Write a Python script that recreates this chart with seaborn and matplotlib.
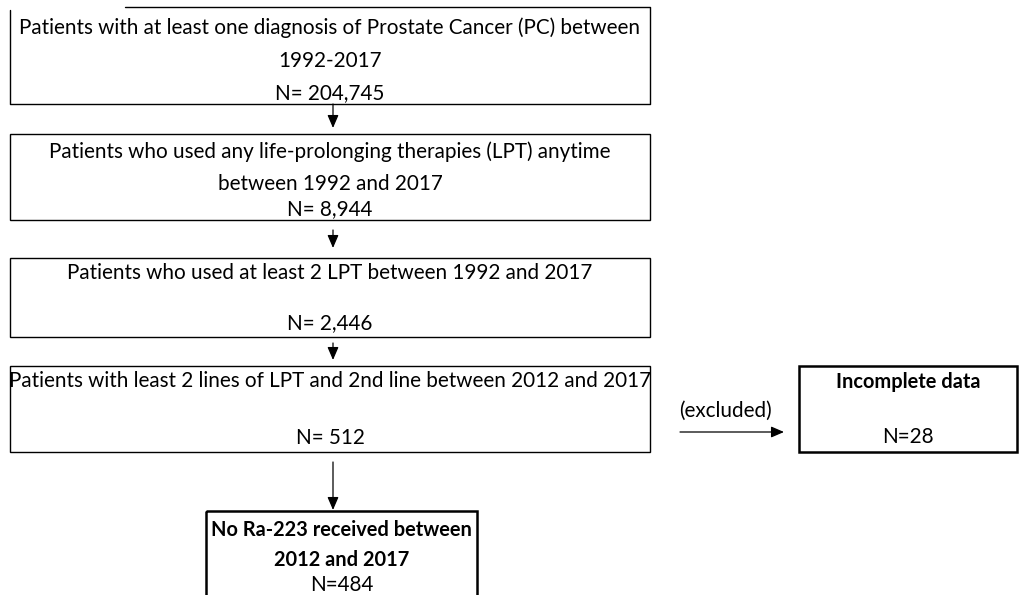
import matplotlib.pyplot as plt
import seaborn as sns
from matplotlib.patches import Rectangle

# Flowchart content
step_labels = [
    ['Patients with at least one diagnosis of Prostate Cancer (PC) between', '1992-2017'],
    ['Patients who used any life-prolonging therapies (LPT) anytime', 'between 1992 and 2017'],
    ['Patients who used at least 2 LPT between 1992 and 2017'],
    ['Patients with least 2 lines of LPT and 2nd line between 2012 and 2017'],
]
step_counts = [204745, 8944, 2446, 512]
excluded_label = 'Incomplete data'
excluded_count = 28
final_label = ['No Ra-223 received between', '2012 and 2017']
final_count = 484

# Layout (pixels, y down)
step_boxes = [(10, 10, 650, 104), (10, 134, 650, 220), (10, 258, 650, 337), (10, 366, 650, 452)]
step_text_y = [[28, 61], [152, 184], [273], [381]]
step_n_y = [93, 209, 323, 438]
excl_box = (799, 366, 1017, 452)
final_box = (206, 511, 477, 600)

sns.set_theme(style='white')
plt.rcParams['font.family'] = ['Lato', 'DejaVu Sans']

fig = plt.figure(figsize=(10.19, 5.95), dpi=100)
ax = fig.add_axes([0, 0, 1, 1])
ax.set_xlim(0, 1019)
ax.set_ylim(595, 0)
ax.axis('off')

fs = 14.9
fs_bold = 14.4
cx = 330

for i, (x0, y0, x1, y1) in enumerate(step_boxes):
    if i == 0:
        # top border of first box is only partly drawn in the original
        ax.plot([x0, x0, x1, x1, 125], [y0, y1, y1, y0 - 3, y0 - 3], color='black', lw=1)
    else:
        ax.add_patch(Rectangle((x0, y0), x1 - x0, y1 - y0, fill=False, ec='black', lw=1))
    for line, ty in zip(step_labels[i], step_text_y[i]):
        ax.text(cx, ty, line, ha='center', va='center', fontsize=fs, color='black')
    ax.text(cx, step_n_y[i], 'N= {:,}'.format(step_counts[i]), ha='center', va='center',
            fontsize=fs, color='black')

arrow_kw = dict(arrowstyle='-|>,head_length=0.65,head_width=0.28', color='black', lw=0.9,
                shrinkA=0, shrinkB=0)
for (top, bottom) in [(104, 128), (230, 248), (343, 360)]:
    ax.annotate('', xy=(333, bottom), xytext=(333, top), arrowprops=arrow_kw)
ax.annotate('', xy=(333, 510), xytext=(333, 462), arrowprops=arrow_kw)
ax.annotate('', xy=(784, 432), xytext=(680, 432), arrowprops=arrow_kw)
ax.text(725, 411, '(excluded)', ha='center', va='center', fontsize=fs, color='black')

# excluded box
x0, y0, x1, y1 = excl_box
ax.add_patch(Rectangle((x0, y0), x1 - x0, y1 - y0, fill=False, ec='black', lw=1.8))
ax.text((x0 + x1) / 2, 382, excluded_label, ha='center', va='center', fontsize=fs_bold,
        fontweight='bold', color='black')
ax.text((x0 + x1) / 2, 437, 'N={}'.format(excluded_count), ha='center', va='center',
        fontsize=fs, color='black')

# final box
x0, y0, x1, y1 = final_box
ax.add_patch(Rectangle((x0, y0), x1 - x0, y1 - y0, fill=False, ec='black', lw=1.8, clip_on=True))
for line, ty in zip(final_label, [530, 560]):
    ax.text((x0 + x1) / 2, ty, line, ha='center', va='center', fontsize=fs_bold,
            fontweight='bold', color='black')
ax.text((x0 + x1) / 2, 585, 'N={}'.format(final_count), ha='center', va='center',
        fontsize=fs, color='black')

fig.savefig('out.png', dpi=100)
